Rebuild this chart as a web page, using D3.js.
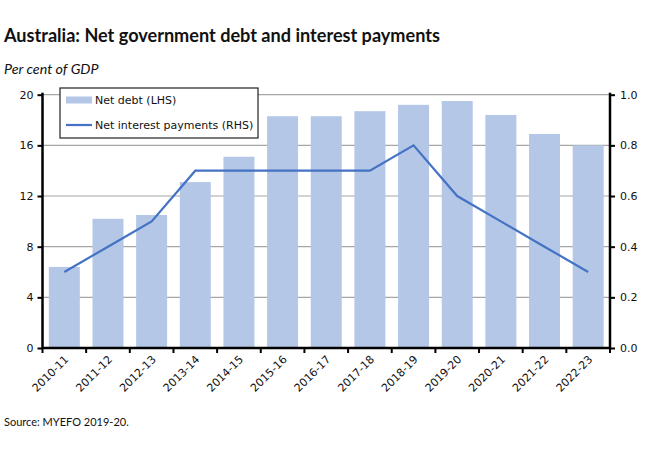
<!DOCTYPE html>
<html lang="en">
<head>
    <meta charset="UTF-8">
    <title>net debt</title>
    <script src="https://d3js.org/d3.v7.min.js"></script>
    <style>
        html, body {
            padding: 0;
            margin: 0;
            background-color: white;
        }
        svg text {
            font-family: "DejaVu Sans", Verdana, sans-serif;
        }
    </style>
</head>
<body>
<script>
    // financial years
    const years = ["2010-11", "2011-12", "2012-13", "2013-14", "2014-15", "2015-16", "2016-17",
        "2017-18", "2018-19", "2019-20", "2020-21", "2021-22", "2022-23"];

    // net debt, per cent of GDP (left axis)
    const net_debt = [6.4, 10.2, 10.5, 13.1, 15.1, 18.3, 18.3, 18.7, 19.2, 19.5, 18.4, 16.9, 16.0];

    // net interest payments, per cent of GDP (right axis)
    const net_interest = [0.3, 0.4, 0.5, 0.7, 0.7, 0.7, 0.7, 0.7, 0.8, 0.6, 0.5, 0.4, 0.3];

    const left_ticks = [0, 4, 8, 12, 16, 20];
    const right_ticks = [0, 0.2, 0.4, 0.6, 0.8, 1.0];

    const width = 650;
    const height = 455;
    const margin = {top: 94.7, right: 40, bottom: 107, left: 42.5};

    const svg = d3.select("body")
        .append("svg")
        .attr("width", width)
        .attr("height", height);

    const x = d3.scaleBand()
        .domain(years)
        .range([margin.left, width - margin.right])
        .paddingInner(0.29)
        .paddingOuter(0.145);

    const y_left = d3.scaleLinear()
        .domain([0, 20])
        .range([height - margin.bottom, margin.top]);

    const y_right = d3.scaleLinear()
        .domain([0, 1])
        .range([height - margin.bottom, margin.top]);

    // title and units
    svg.append("text")
        .attr("x", 4)
        .attr("y", 42)
        .style("font-family", "Lato, 'Open Sans', sans-serif")
        .style("font-weight", "bold")
        .style("font-size", "18.1px")
        .attr("fill", "#111")
        .text("Australia: Net government debt and interest payments");

    svg.append("text")
        .attr("x", 4)
        .attr("y", 74)
        .style("font-family", "Lato, 'Open Sans', sans-serif")
        .style("font-style", "italic")
        .style("font-size", "14.3px")
        .attr("fill", "#111")
        .text("Per cent of GDP");

    // gridlines
    svg.append("g")
        .selectAll("line")
        .data(left_ticks.slice(1))
        .join("line")
        .attr("x1", margin.left)
        .attr("x2", width - margin.right)
        .attr("y1", d => y_left(d))
        .attr("y2", d => y_left(d))
        .attr("stroke", "#a6a6a6")
        .attr("stroke-width", 1.2);

    // bars
    svg.append("g")
        .selectAll("rect")
        .data(years)
        .join("rect")
        .attr("x", d => x(d))
        .attr("width", x.bandwidth())
        .attr("y", (d, i) => y_left(net_debt[i]))
        .attr("height", (d, i) => y_left(0) - y_left(net_debt[i]))
        .attr("fill", "#b4c7e7");

    // line
    const line = d3.line()
        .x((d, i) => x(years[i]) + x.bandwidth() / 2)
        .y(d => y_right(d));

    svg.append("path")
        .datum(net_interest)
        .attr("d", line)
        .attr("fill", "none")
        .attr("stroke", "#4472c4")
        .attr("stroke-width", 2.2);

    // axes
    const left_axis = svg.append("g")
        .attr("transform", `translate(${margin.left},0)`)
        .call(d3.axisLeft(y_left).tickValues(left_ticks).tickSize(5).tickPadding(4).tickFormat(d3.format("d")));

    const right_axis = svg.append("g")
        .attr("transform", `translate(${width - margin.right},0)`)
        .call(d3.axisRight(y_right).tickValues(right_ticks).tickSize(5).tickPadding(5).tickFormat(d3.format(".1f")));

    const boundaries = d3.range(years.length + 1).map(i => margin.left + i * (width - margin.right - margin.left) / years.length);

    const bottom = svg.append("g")
        .attr("transform", `translate(0,${height - margin.bottom})`);

    bottom.append("line")
        .attr("x1", margin.left)
        .attr("x2", width - margin.right)
        .attr("stroke", "black")
        .attr("stroke-width", 2.5);

    bottom.selectAll("line.tick")
        .data(boundaries)
        .join("line")
        .attr("class", "tick")
        .attr("x1", d => d)
        .attr("x2", d => d)
        .attr("y1", 0)
        .attr("y2", 5)
        .attr("stroke", "black")
        .attr("stroke-width", 2);

    bottom.selectAll("text")
        .data(years)
        .join("text")
        .attr("transform", d => `translate(${x(d) + x.bandwidth() / 2 + 5},12) rotate(-45)`)
        .attr("text-anchor", "end")
        .attr("font-size", "11px")
        .attr("fill", "#111")
        .text(d => d);

    for (let ax of [left_axis, right_axis]) {
        ax.select(".domain").attr("stroke-width", 2.5).attr("stroke", "black");
        ax.selectAll(".tick line").attr("stroke-width", 2).attr("stroke", "black");
        ax.selectAll(".tick text")
            .style("font-family", "'DejaVu Sans', Verdana, sans-serif")
            .attr("font-size", "11px")
            .attr("fill", "#111");
    }
    left_axis.select(".domain").attr("d", `M-0,${y_left(20) - 2}V${y_left(0)}`);
    right_axis.select(".domain").attr("d", `M0,${y_right(1) - 2}V${y_right(0)}`);

    // legend
    const legend = svg.append("g")
        .attr("transform", "translate(60,88)");

    legend.append("rect")
        .attr("width", 198)
        .attr("height", 50)
        .attr("fill", "white")
        .attr("stroke", "#222")
        .attr("stroke-width", 1.2);

    legend.append("rect")
        .attr("x", 6)
        .attr("y", 8.5)
        .attr("width", 26)
        .attr("height", 7)
        .attr("fill", "#b4c7e7");

    legend.append("line")
        .attr("x1", 6)
        .attr("x2", 32)
        .attr("y1", 37)
        .attr("y2", 37)
        .attr("stroke", "#4472c4")
        .attr("stroke-width", 2.2);

    legend.selectAll("text")
        .data(["Net debt (LHS)", "Net interest payments (RHS)"])
        .join("text")
        .attr("x", 35)
        .attr("y", (d, i) => 16 + i * 25)
        .attr("font-size", "11px")
        .attr("fill", "#111")
        .text(d => d);

    // source
    svg.append("text")
        .attr("x", 4)
        .attr("y", 426)
        .style("font-family", "Lato, 'Open Sans', sans-serif")
        .style("font-size", "11px")
        .attr("fill", "#111")
        .text("Source: MYEFO 2019-20.");
</script>
</body>
</html>
